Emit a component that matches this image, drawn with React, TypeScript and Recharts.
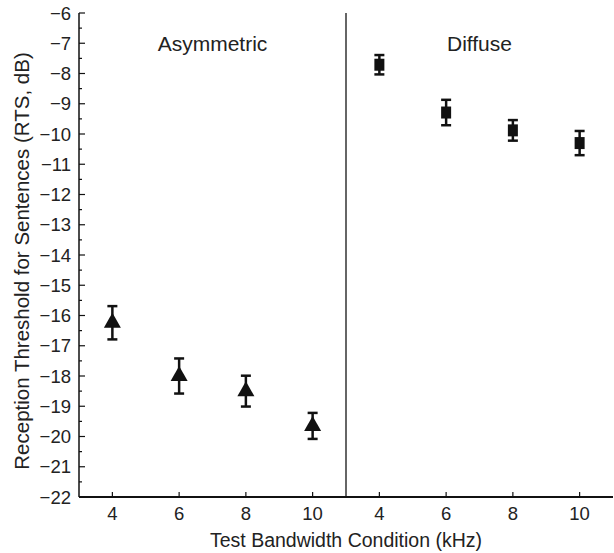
import {
  ScatterChart,
  Scatter,
  XAxis,
  YAxis,
  ErrorBar,
  ReferenceLine,
  ReferenceDot,
} from 'recharts';

// bandwidth conditions (kHz), repeated for each listening condition
const freqLabels = ['4', '6', '8', '10'];

// Asymmetric noise: mean RTS (dB) and error
const asymValues = [-16.24, -18.0, -18.5, -19.65];
const asymErrors = [0.55, 0.58, 0.51, 0.43];

// Diffuse noise: mean RTS (dB) and error
const diffValues = [-7.71, -9.29, -9.88, -10.3];
const diffErrors = [0.32, 0.42, 0.34, 0.4];

const yMajorTicks = [-22, -21, -20, -19, -18, -17, -16, -15, -14, -13, -12, -11, -10, -9, -8, -7, -6];
const yAllTicks = yMajorTicks.flatMap((t) => (t < -6 ? [t, t + 0.5] : [t]));

const xPositions = [1, 2, 3, 4, 5, 6, 7, 8];
const xTickLabels = [...freqLabels, ...freqLabels];

const asymData = asymValues.map((y, i) => ({ x: i + 1, y, err: asymErrors[i] }));
const diffData = diffValues.map((y, i) => ({ x: i + 5, y, err: diffErrors[i] }));

const FONT = '"Liberation Sans", Arial, Helvetica, sans-serif';
const TEXT = '#222';
const INK = '#111';
const GAP = 8;

function BottomTick(props: any) {
  const { x, y, payload } = props;
  const axisY = y - GAP;
  const idx = xPositions.indexOf(payload.value);
  return (
    <g>
      <line x1={x} y1={axisY} x2={x} y2={axisY - 6} stroke={INK} strokeWidth={1.2} />
      <text x={x} y={y} dy="0.74em" textAnchor="middle" fill={TEXT} fontSize={18.5} fontFamily={FONT}>
        {idx >= 0 ? xTickLabels[idx] : ''}
      </text>
    </g>
  );
}

function TopTick(props: any) {
  const { x, y } = props;
  const axisY = y + GAP;
  return <line x1={x} y1={axisY} x2={x} y2={axisY + 6} stroke={INK} strokeWidth={1.2} />;
}

function LeftTick(props: any) {
  const { x, y, payload } = props;
  const axisX = x + GAP;
  const major = Number.isInteger(payload.value);
  return (
    <g>
      <line x1={axisX} y1={y} x2={axisX + (major ? 6 : 3)} y2={y} stroke={INK} strokeWidth={1.2} />
      {major && (
        <text x={x} y={y} dy="0.36em" textAnchor="end" fill={TEXT} fontSize={18.5} fontFamily={FONT}>
          {String(payload.value).replace('-', '\u2212')}
        </text>
      )}
    </g>
  );
}

function RightTick(props: any) {
  const { x, y, payload } = props;
  const axisX = x - GAP;
  const major = Number.isInteger(payload.value);
  return <line x1={axisX} y1={y} x2={axisX - (major ? 6 : 3)} y2={y} stroke={INK} strokeWidth={1.2} />;
}

function YTitle(props: any) {
  const { viewBox } = props;
  const cx = viewBox.x + 20;
  const cy = viewBox.y + viewBox.height / 2 + 6;
  return (
    <text
      x={cx}
      y={cy}
      transform={`rotate(-90 ${cx} ${cy})`}
      textAnchor="middle"
      fill={TEXT}
      fontSize={20.5}
      fontFamily={FONT}
    >
      Reception Threshold for Sentences (RTS, dB)
    </text>
  );
}

function Triangle(props: any) {
  const { cx, cy } = props;
  const w = 17;
  const h = 15;
  return (
    <polygon
      points={`${cx},${cy - (2 * h) / 3} ${cx - w / 2},${cy + h / 3} ${cx + w / 2},${cy + h / 3}`}
      fill={INK}
    />
  );
}

function Square(props: any) {
  const { cx, cy } = props;
  return <rect x={cx - 5} y={cy - 6} width={10} height={12} fill={INK} />;
}

export default function App() {
  return (
    <div style={{ position: 'absolute', left: 0, top: 0, background: '#fff' }}>
      <ScatterChart width={614} height={553} margin={{ top: 13, right: 1, bottom: 0, left: 9 }}>
        <XAxis
          type="number"
          dataKey="x"
          domain={[0.5, 8.5]}
          ticks={xPositions}
          interval={0}
          allowDataOverflow
          height={56}
          tickSize={0}
          tickMargin={GAP + 1}
          tick={<BottomTick />}
          axisLine={{ stroke: INK, strokeWidth: 2 }}
          label={{
            value: 'Test Bandwidth Condition (kHz)',
            position: 'insideBottom',
            offset: 6,
            fill: TEXT,
            fontSize: 19.5,
            fontFamily: FONT,
          }}
        />
        <XAxis
          xAxisId="top"
          orientation="top"
          type="number"
          domain={[0.5, 8.5]}
          ticks={xPositions}
          interval={0}
          allowDataOverflow
          height={0}
          tickSize={0}
          tickMargin={GAP}
          tick={<TopTick />}
          axisLine={{ stroke: INK, strokeWidth: 1.5 }}
        />
        <YAxis
          type="number"
          dataKey="y"
          domain={[-22, -6]}
          ticks={yAllTicks}
          interval={0}
          allowDataOverflow
          width={70}
          tickSize={0}
          tickMargin={GAP}
          tick={<LeftTick />}
          axisLine={{ stroke: INK, strokeWidth: 1.5 }}
          label={{ content: <YTitle /> }}
        />
        <YAxis
          yAxisId="right"
          orientation="right"
          type="number"
          domain={[-22, -6]}
          ticks={yAllTicks}
          interval={0}
          allowDataOverflow
          width={0}
          tickSize={0}
          tickMargin={GAP}
          tick={<RightTick />}
          axisLine={{ stroke: INK, strokeWidth: 1.5 }}
        />
        <ReferenceLine x={4.5} stroke="#333" strokeWidth={1.5} />
        <ReferenceDot
          x={2.5}
          y={-7}
          r={0}
          stroke="none"
          fill="none"
          label={{ value: 'Asymmetric', position: 'center', fill: TEXT, fontSize: 21, fontFamily: FONT }}
        />
        <ReferenceDot
          x={6.5}
          y={-7}
          r={0}
          stroke="none"
          fill="none"
          label={{ value: 'Diffuse', position: 'center', fill: TEXT, fontSize: 21, fontFamily: FONT }}
        />
        <Scatter data={asymData} shape={<Triangle />} isAnimationActive={false}>
          <ErrorBar dataKey="err" direction="y" width={5} stroke={INK} strokeWidth={2.5} />
        </Scatter>
        <Scatter data={diffData} shape={<Square />} isAnimationActive={false}>
          <ErrorBar dataKey="err" direction="y" width={5} stroke={INK} strokeWidth={2.5} />
        </Scatter>
      </ScatterChart>
    </div>
  );
}
